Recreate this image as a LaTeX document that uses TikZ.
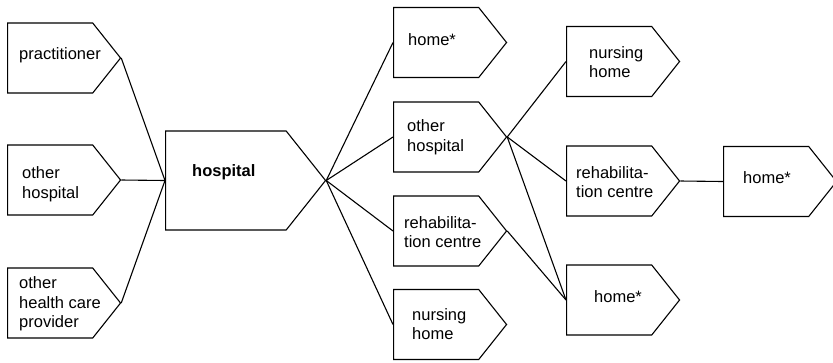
\documentclass[tikz,border=0pt]{standalone}
\usepackage{fontspec}
\setmainfont{Liberation Sans}
\usetikzlibrary{shapes.symbols}
\begin{document}
\begin{tikzpicture}[x=1bp,y=-1bp,
  box/.style={draw, shape=signal, signal to=east, signal pointer angle=103,
    line width=1.1bp, inner sep=0pt, minimum width=113bp, minimum height=70bp, anchor=west},
  bigbox/.style={box, minimum width=160bp, minimum height=99bp},
  txt/.style={anchor=west, align=left, inner sep=0pt,
    font=\fontsize{16.5bp}{19.5bp}\selectfont},
  link/.style={line width=1.1bp}]
\useasboundingbox (0,0) rectangle (833,362);

% sources
\node[box] (prac) at (7,58) {};
\node[box] (ohL)  at (7,180) {};
\node[box] (prov) at (7,303) {};
\node[txt] (tprac) at (19,55) {practitioner};
\node[txt] (tohL)  at (22,184) {other\\hospital};
\node[txt] (tprov) at (19,304) {other\\health care\\provider};

% central hospital
\node[bigbox] (hosp) at (165,180.5) {};
\node[txt, font=\fontsize{16.5bp}{19.5bp}\selectfont\bfseries] (thosp) at (192,172) {hospital};

% first destinations
\node[box] (homeM) at (393,42.5) {};
\node[box] (ohM)   at (393,137) {};
\node[box] (rehM)  at (393,231) {};
\node[box] (nurM)  at (393,324.5) {};
\node[txt] (thomeM) at (408,40) {home*};
\node[txt] (tohM)   at (407,137) {other\\hospital};
\node[txt] (trehM)  at (404,232) {rehabilita-\\tion centre};
\node[txt] (tnurM)  at (412,324) {nursing\\home};

% second destinations
\node[box] (nurR)  at (566,61.5) {};
\node[box] (rehR)  at (566,181) {};
\node[box] (homeR) at (566,300) {};
\node[txt] (tnurR)  at (589,62) {nursing\\home};
\node[txt] (trehR)  at (576,182) {rehabilita-\\tion centre};
\node[txt] (thomeR) at (594,297) {home*};

% third destination
\node[box] (homeF) at (723,181.5) {};
\node[txt] (thomeF) at (743,178) {home*};

% connections
\draw[link] (prac.east) -- (hosp.west);
\draw[link] (ohL.east)  -- (hosp.west);
\draw[link] (prov.east) -- (hosp.west);
\draw[link] (hosp.east) -- (homeM.west);
\draw[link] (hosp.east) -- (ohM.west);
\draw[link] (hosp.east) -- (rehM.west);
\draw[link] (hosp.east) -- (nurM.west);
\draw[link] (ohM.east) -- (nurR.west);
\draw[link] (ohM.east) -- (rehR.west);
\draw[link] (ohM.east) -- (homeR.west);
\draw[link] (rehM.east) -- (homeR.west);
\draw[link] (rehR.east) -- (homeF.west);
\end{tikzpicture}
\end{document}
